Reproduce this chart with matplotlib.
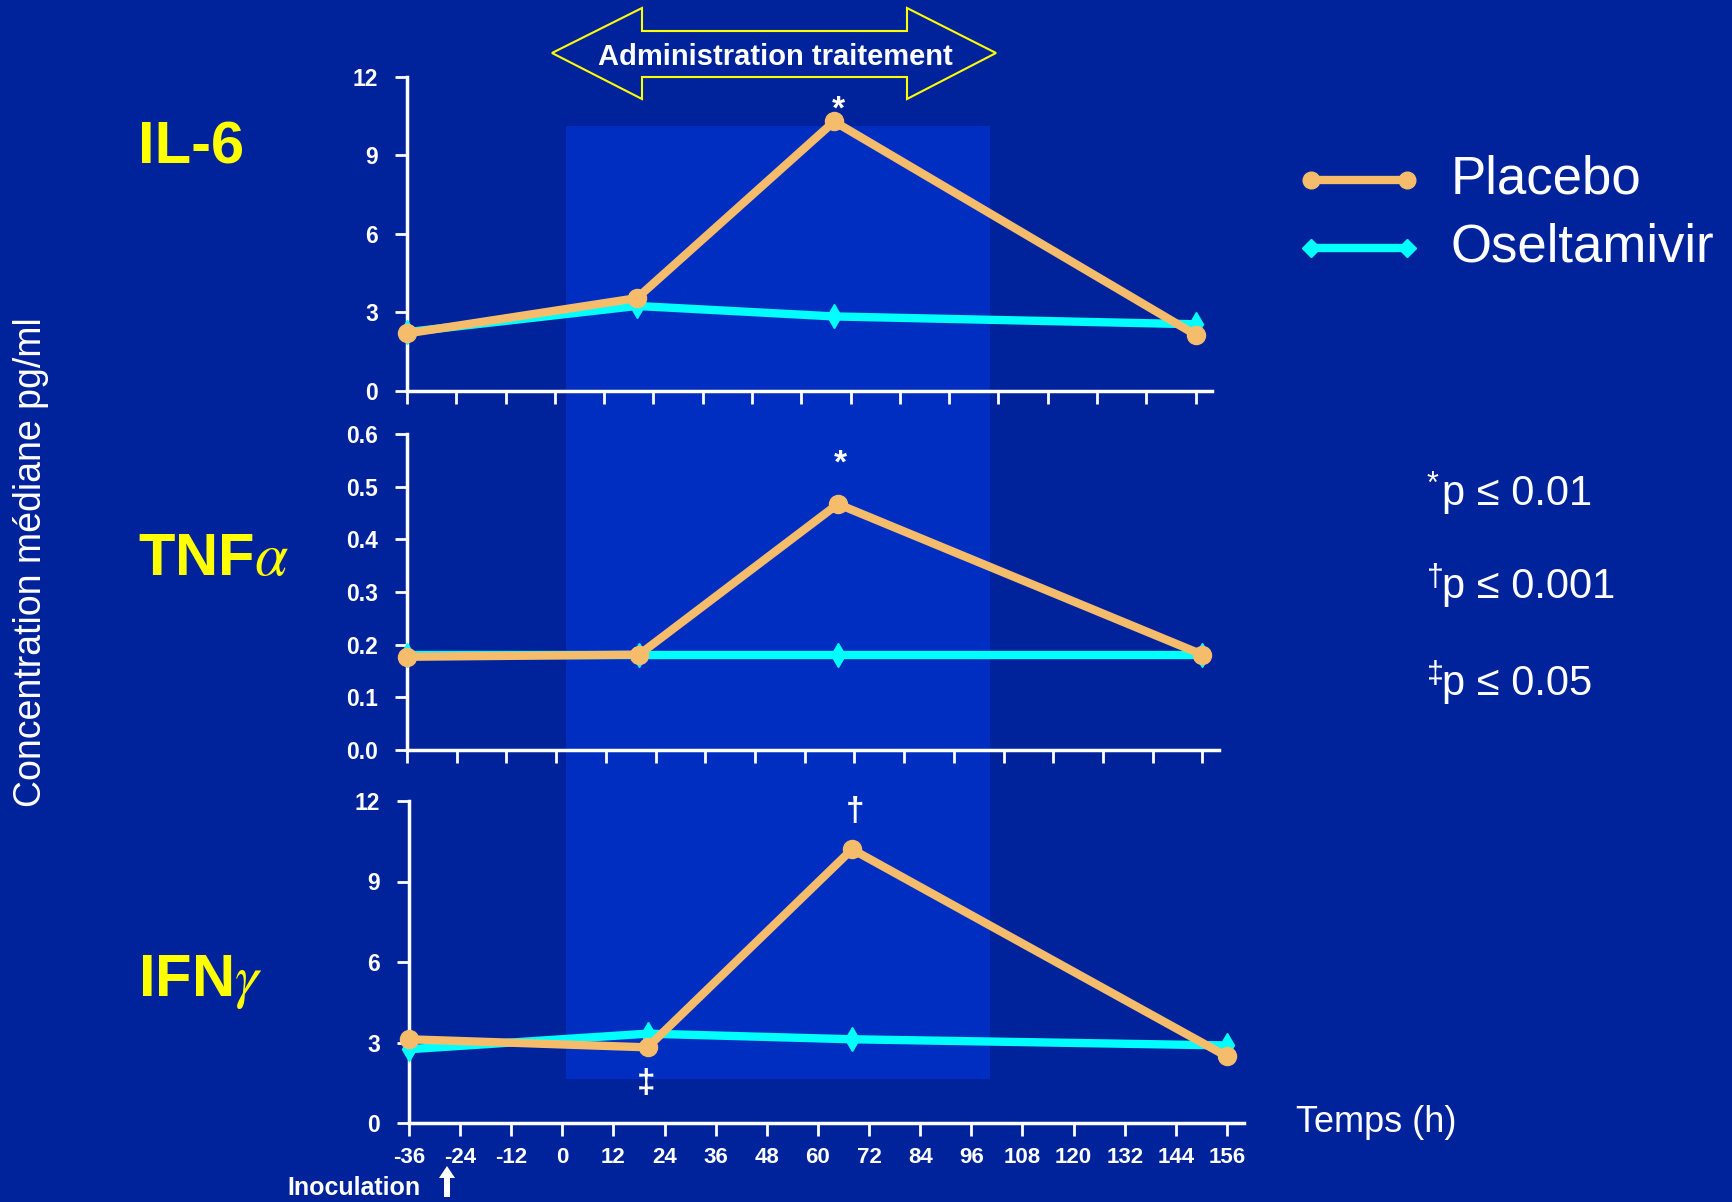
import matplotlib
matplotlib.use('Agg')
import matplotlib.pyplot as plt
from matplotlib.patches import Rectangle, Polygon
from matplotlib.lines import Line2D

# ---------------- data ----------------
hours = [-36, 20, 68, 156]
il6_placebo = [2.2, 3.55, 10.3, 2.15]
il6_oseltamivir = [2.25, 3.25, 2.85, 2.55]
tnf_placebo = [0.177, 0.181, 0.467, 0.181]
tnf_oseltamivir = [0.181, 0.181, 0.181, 0.181]
ifn_placebo = [3.12, 2.82, 10.2, 2.48]
ifn_oseltamivir = [2.75, 3.33, 3.12, 2.89]

panel_names = ['IL-6', r'TNF$\alpha$', r'IFN$\gamma$']
series_labels = ['Placebo', 'Oseltamivir']
xtick_values = [-36, -24, -12, 0, 12, 24, 36, 48, 60, 72, 84, 96, 108, 120, 132, 144, 156]
xtick_labels = ['-36', '-24', '-12', '0', '12', '24', '36', '48', '60', '72', '84',
                '96', '108', '120', '132', '144', '156']
yticks_il6 = [0, 3, 6, 9, 12]
ytick_labels_il6 = ['0', '3', '6', '9', '12']
yticks_tnf = [0.0, 0.1, 0.2, 0.3, 0.4, 0.5, 0.6]
ytick_labels_tnf = ['0.0', '0.1', '0.2', '0.3', '0.4', '0.5', '0.6']
yticks_ifn = [0, 3, 6, 9, 12]
ytick_labels_ifn = ['0', '3', '6', '9', '12']
pvalue_symbols = ['*', '\u2020', '\u2021']
pvalue_texts = ['p \u2264 0.01', 'p \u2264 0.001', 'p \u2264 0.05']
# (panel, point index, symbol, offset in points)
significance = [(0, 2, '*', (3, 8)), (1, 2, '*', (2, 29)), (2, 2, '\u2020', (2, 27)),
                (2, 1, '\u2021', (-1, -26))]

# ---------------- style ----------------
BG = '#00239C'
SHADE = '#002EC0'
ORANGE = '#F5BD6B'
CYAN = '#00FFFF'
YELLOW = '#FFFF00'
plt.rcParams['font.family'] = ['Liberation Sans', 'DejaVu Sans']
plt.rcParams['mathtext.fontset'] = 'stix'
plt.rcParams['axes.unicode_minus'] = False

W, H = 1733, 1202
fig = plt.figure(figsize=(W / 100, H / 100), dpi=100, facecolor=BG)


def fx(px):
    return px / W


def fy(py):
    return 1 - py / H


# treatment shading (figure level, behind all panels)
fig.add_artist(Rectangle((fx(566), fy(1079)), 424 / W, 953 / H, transform=fig.transFigure,
                         facecolor=SHADE, edgecolor='none', zorder=-5))

# axes rectangles (left, top, right, bottom in pixels)
boxes = [(407, 77, 1212, 391), (407, 434, 1219, 750), (409, 801, 1244, 1123)]
placebo_sets = [il6_placebo, tnf_placebo, ifn_placebo]
osel_sets = [il6_oseltamivir, tnf_oseltamivir, ifn_oseltamivir]
ytick_sets = [(yticks_il6, ytick_labels_il6), (yticks_tnf, ytick_labels_tnf),
              (yticks_ifn, ytick_labels_ifn)]
ylims = [(0, 12), (0, 0.6), (0, 12)]
label_y = [148, 559, 982]

axes = []
for i, (l, t, r, b) in enumerate(boxes):
    ax = fig.add_axes([fx(l), fy(b), (r - l) / W, (b - t) / H])
    ax.set_facecolor('none')
    ax.set_xlim(-36, 160)
    ax.set_ylim(*ylims[i])
    for s in ['top', 'right']:
        ax.spines[s].set_visible(False)
    for s in ['left', 'bottom']:
        ax.spines[s].set_color('white')
        ax.spines[s].set_linewidth(2.5)
    ax.set_xticks(xtick_values)
    ax.set_yticks(ytick_sets[i][0])
    ax.set_yticklabels(ytick_sets[i][1])
    if i == 2:
        ax.set_xticklabels(xtick_labels)
    else:
        ax.tick_params(axis='x', labelbottom=False)
    ax.tick_params(axis='both', colors='white', direction='out', length=9, width=2,
                   labelsize=16)
    ax.tick_params(axis='y', pad=12, labelsize=16.5)
    ax.tick_params(axis='x', pad=8)
    for lab in ax.get_xticklabels() + ax.get_yticklabels():
        lab.set_fontweight('bold')
    ax.plot(hours, osel_sets[i], color=CYAN, lw=6, marker='d', ms=12, zorder=3,
            clip_on=False, label=series_labels[1])
    ax.plot(hours, placebo_sets[i], color=ORANGE, lw=6, marker='o', ms=13, zorder=4,
            clip_on=False, label=series_labels[0])
    fig.text(fx(138), fy(label_y[i]), panel_names[i], color=YELLOW, fontsize=43,
             fontweight='bold', ha='left', va='center')
    axes.append(ax)

for (pi, k, sym, off) in significance:
    vals = placebo_sets[pi]
    axes[pi].annotate(sym, xy=(hours[k], vals[k]), xytext=off, textcoords='offset points',
                      ha='center', va='center', color='white', fontsize=24,
                      fontweight='bold')

# y label
fig.text(fx(31), fy(562), 'Concentration médiane pg/ml', rotation=90, color='white',
         fontsize=27, ha='center', va='center')

# x label
fig.text(fx(1296), fy(1122), 'Temps (h)', color='white', fontsize=26, ha='left',
         va='center')

# inoculation marker
fig.text(fx(354), fy(1188), 'Inoculation', color='white', fontsize=18, fontweight='bold',
         ha='center', va='center')
arrow_px = [(447, 1166), (455, 1178), (450, 1178), (450, 1197), (444, 1197), (444, 1178),
            (439, 1178)]
fig.add_artist(Polygon([(fx(x), fy(y)) for x, y in arrow_px], closed=True,
                       transform=fig.transFigure, facecolor='white', edgecolor='none'))

# administration double arrow
darrow_px = [(552, 53), (642, 8), (642, 31), (907, 31), (907, 8), (996, 53), (907, 99),
             (907, 77), (642, 77), (642, 99)]
fig.add_artist(Polygon([(fx(x), fy(y)) for x, y in darrow_px], closed=True,
                       transform=fig.transFigure, facecolor=BG, edgecolor=YELLOW, lw=1.5))
fig.text(fx(775), fy(57), 'Administration traitement', color='white', fontsize=21,
         fontweight='bold', ha='center', va='center')

# legend (manual)
legend_specs = [(series_labels[0], ORANGE, 'o', 12, 180), (series_labels[1], CYAN, 'D', 9, 248)]
for lab, col, mk, ms, ypx in legend_specs:
    fig.add_artist(Line2D([fx(1311), fx(1407)], [fy(ypx), fy(ypx)], transform=fig.transFigure,
                          color=col, lw=6, marker=mk, ms=ms))
    fig.text(fx(1451), fy(ypx), lab, color='white', fontsize=38, ha='left', va='center')

# p-value notes
pv_y = [494, 587, 684]
for sym, txt, ypx in zip(pvalue_symbols, pvalue_texts, pv_y):
    fig.text(fx(1427), fy(ypx - 9), sym, color='white', fontsize=22, ha='left',
             va='center')
    fig.text(fx(1442), fy(ypx), txt, color='white', fontsize=30, ha='left', va='center')

fig.savefig('out.png', dpi=100, facecolor=BG)
